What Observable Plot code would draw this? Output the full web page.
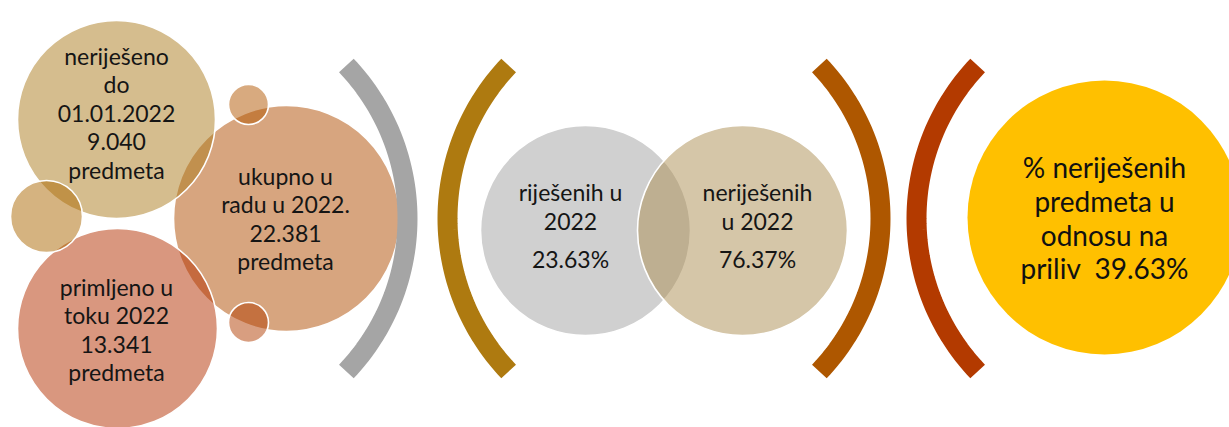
<!DOCTYPE html>
<html>
<head>
<meta charset="utf-8">
<script src="https://cdn.jsdelivr.net/npm/d3@7"></script>
<script src="https://cdn.jsdelivr.net/npm/@observablehq/plot@0.6"></script>
<style>
  html, body { margin: 0; padding: 0; background: #ffffff; }
  #chart svg { display: block; }
</style>
</head>
<body>
<div id="chart"></div>
<script>
// ---- data ----
const caseLabels = ["neriješeno\ndo\n01.01.2022", "ukupno u\nradu u 2022.", "primljeno u\ntoku 2022"];
const caseCounts = [9040, 22381, 13341];
const caseUnit = "predmeta";
const shareLabels = ["riješenih u\n2022", "neriješenih\nu 2022"];
const shareValues = [23.63, 76.37];
const ratioLabel = "% neriješenih\npredmeta u\nodnosu na\npriliv";
const ratioValue = 39.63;

// ---- layout (positions / styles) ----
const W = 1229, H = 427;
const FONT = "Lato, 'Open Sans', sans-serif";
const ALPHA = 0.5;
function base(hex) { // colour that gives `hex` when painted at ALPHA over white
  const c = d3.rgb(hex);
  const f = v => Math.max(0, Math.min(255, (v - 255 * (1 - ALPHA)) / ALPHA));
  return d3.rgb(f(c.r), f(c.g), f(c.b)).formatHex();
}
const bubbles = [
  {cx: 116, cy: 119, r: 99,  color: "#D5BD8E"},
  {cx: 248, cy: 104, r: 20,  color: "#D8AA7C"},
  {cx: 286, cy: 218, r: 113, color: "#D7A57D"},
  {cx: 46,  cy: 216, r: 36,  color: "#D5B380"},
  {cx: 117, cy: 328, r: 100, color: "#D9977F"},
  {cx: 248, cy: 322, r: 20,  color: "#D89E80"},
  {cx: 585, cy: 230, r: 105, color: "#D0D0D0"},
  {cx: 742, cy: 230, r: 105, color: "#D5C6A8"}
].map(d => ({...d, fill: base(d.color)}));
const bigBubble = [{cx: 1104, cy: 217, r: 137, fill: "#FFC000"}];

const arcR = 222, arcCy = 218, arcHalf = Math.asin(153 / arcR);
const arcs = [
  {id: 0, cx: 185,  dir: 0,       color: "#A5A5A5"},
  {id: 1, cx: 669,  dir: Math.PI, color: "#AE7A10"},
  {id: 2, cx: 658,  dir: 0,       color: "#AE5700"},
  {id: 3, cx: 1138, dir: Math.PI, color: "#B33A00"}
];
const arcPts = arcs.flatMap(a => d3.range(0, 61).map(i => {
  const t = a.dir - arcHalf + 2 * arcHalf * i / 60;
  return {id: a.id, color: a.color, x: a.cx + arcR * Math.cos(t), y: arcCy + arcR * Math.sin(t)};
}));

const fmtInt = d3.formatLocale({decimal: ",", thousands: ".", grouping: [3], currency: ["", ""]}).format(",d");
const fmtPct = v => v.toFixed(2) + "%";

const casePos = [{x: 116, y: 112}, {x: 285, y: 218}, {x: 116, y: 329}];
const caseText = caseLabels.map((l, i) => ({...casePos[i], text: `${l}\n${fmtInt(caseCounts[i])}\n${caseUnit}`}));
const sharePos = [{x: 570, yl: 206, yv: 260}, {x: 757, yl: 206, yv: 260}];
const shareLabelText = shareLabels.map((l, i) => ({x: sharePos[i].x, y: sharePos[i].yl, text: l}));
const shareValueText = shareValues.map((v, i) => ({x: sharePos[i].x, y: sharePos[i].yv, text: fmtPct(v)}));
const ratioText = [{x: 1104, y: 217.5, text: ratioLabel + "\u00a0 " + fmtPct(ratioValue)}];

const chart = Plot.plot({
  width: W, height: H, margin: 0,
  style: {background: "#ffffff", overflow: "hidden"},
  x: {domain: [0, W], range: [0, W], axis: null},
  y: {domain: [0, H], range: [0, H], axis: null},
  r: {type: "identity"},
  color: {type: "identity"},
  marks: [
    Plot.dot(bubbles, {x: "cx", y: "cy", r: "r", fill: "fill", fillOpacity: ALPHA, stroke: "white", strokeWidth: 1.6}),
    Plot.dot(bigBubble, {x: "cx", y: "cy", r: "r", fill: "fill"}),
    Plot.line(arcPts, {x: "x", y: "y", z: "id", stroke: "color", strokeWidth: 20, strokeLinecap: "butt", strokeLinejoin: "round"}),
    Plot.text(caseText, {x: "x", y: "y", text: "text", fontSize: 23, lineHeight: 1.24, fill: "#151515", fontFamily: FONT}),
    Plot.text(shareLabelText, {x: "x", y: "y", text: "text", fontSize: 23, lineHeight: 1.22, fill: "#151515", fontFamily: FONT}),
    Plot.text(shareValueText, {x: "x", y: "y", text: "text", fontSize: 23, fill: "#151515", fontFamily: FONT}),
    Plot.text(ratioText, {x: "x", y: "y", text: "text", fontSize: 28, lineHeight: 1.2, fill: "#111111", fontFamily: FONT})
  ]
});
document.getElementById("chart").appendChild(chart);
</script>
</body>
</html>
